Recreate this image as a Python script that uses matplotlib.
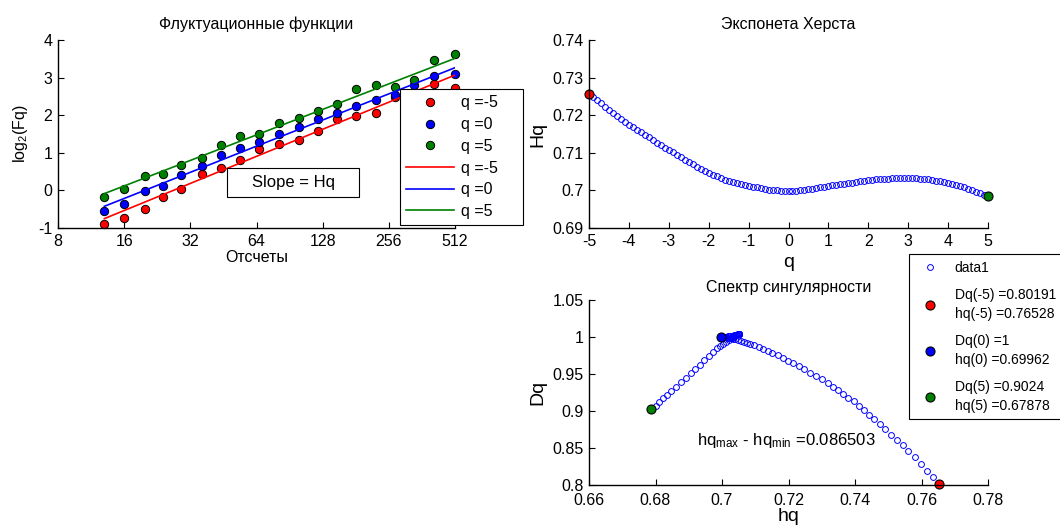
import numpy as np
import matplotlib
matplotlib.use('Agg')
import matplotlib.pyplot as plt
from matplotlib.patches import Rectangle
from matplotlib.ticker import FuncFormatter, NullLocator

plt.rcParams['font.family'] = ['Liberation Sans', 'DejaVu Sans']
plt.rcParams['mathtext.default'] = 'regular'
plt.rcParams['axes.unicode_minus'] = False

# fluctuation functions, log2(Fq) vs scale
scales = [13, 16, 20, 24, 29, 36, 44, 54, 66, 81, 100, 122, 149, 181, 224, 273, 334, 412, 512]
fq_m5 = [-0.885, -0.725, -0.503, -0.174, 0.048, 0.430, 0.607, 0.821, 1.096, 1.247,
         1.336, 1.593, 1.886, 1.966, 2.046, 2.49, 2.55, 2.83, 2.73]
fq_0 = [-0.547, -0.352, -0.023, 0.119, 0.403, 0.643, 0.936, 1.131, 1.291, 1.487,
        1.691, 1.886, 2.064, 2.242, 2.401, 2.55, 2.80, 3.04, 3.09]
fq_p5 = [-0.174, 0.048, 0.377, 0.430, 0.687, 0.874, 1.202, 1.442, 1.487, 1.797,
         1.913, 2.108, 2.286, 2.686, 2.801, 2.757, 2.934, 3.467, 3.627]
fit_x = [13, 512]
fit_m5 = [-0.751, 3.067]
fit_0 = [-0.423, 3.263]
fit_p5 = [-0.085, 3.512]

# generalized Hurst exponent
q = np.round(np.linspace(-5, 5, 101), 1)
Hq = [0.7257, 0.7249, 0.7240, 0.7232, 0.7223, 0.7215, 0.7207, 0.7199, 0.7191, 0.7183,
      0.7175, 0.7168, 0.7161, 0.7155, 0.7148, 0.7141, 0.7134, 0.7127, 0.7121, 0.7114,
      0.7107, 0.7101, 0.7094, 0.7088, 0.7081, 0.7075, 0.7069, 0.7063, 0.7058, 0.7052,
      0.7046, 0.7042, 0.7037, 0.7033, 0.7028, 0.7024, 0.7022, 0.7019, 0.7017, 0.7014,
      0.7012, 0.7010, 0.7008, 0.7006, 0.7004, 0.7002, 0.7001, 0.7000, 0.6999, 0.6998,
      0.6998, 0.6998, 0.6999, 0.7000, 0.7001, 0.7003, 0.7005, 0.7007, 0.7009, 0.7010,
      0.7012, 0.7014, 0.7015, 0.7017, 0.7018, 0.7020, 0.7021, 0.7023, 0.7024, 0.7026,
      0.7027, 0.7028, 0.7029, 0.7030, 0.7030, 0.7031, 0.7032, 0.7032, 0.7033, 0.7033,
      0.7033, 0.7032, 0.7032, 0.7031, 0.7030, 0.7029, 0.7027, 0.7026, 0.7024, 0.7022,
      0.7020, 0.7017, 0.7014, 0.7011, 0.7008, 0.7004, 0.7000, 0.6996, 0.6992, 0.6988,
      0.6984]

# singularity spectrum
hq = [0.7653, 0.7634, 0.7616, 0.7597, 0.7579, 0.7560, 0.7543, 0.7526, 0.7508, 0.7491,
      0.7474, 0.7458, 0.7443, 0.7427, 0.7412, 0.7396, 0.7380, 0.7365, 0.7349, 0.7334,
      0.7318, 0.7301, 0.7283, 0.7266, 0.7248, 0.7231, 0.7215, 0.7199, 0.7183, 0.7167,
      0.7151, 0.7138, 0.7124, 0.7111, 0.7097, 0.7084, 0.7075, 0.7066, 0.7058, 0.7049,
      0.7040, 0.7034, 0.7028, 0.7021, 0.7015, 0.7009, 0.7006, 0.7004, 0.7001, 0.6999,
      0.6996, 0.6999, 0.7003, 0.7006, 0.7009, 0.7013, 0.7017, 0.7021, 0.7025, 0.7029,
      0.7033, 0.7036, 0.7039, 0.7042, 0.7045, 0.7047, 0.7049, 0.7050, 0.7051, 0.7052,
      0.7052, 0.7052, 0.7051, 0.7050, 0.7048, 0.7046, 0.7043, 0.7040, 0.7036, 0.7033,
      0.7029, 0.7020, 0.7012, 0.7003, 0.6995, 0.6986, 0.6973, 0.6960, 0.6946, 0.6933,
      0.6920, 0.6906, 0.6891, 0.6877, 0.6862, 0.6848, 0.6836, 0.6824, 0.6812, 0.6800,
      0.6788]
Dq = [0.8019, 0.8107, 0.8195, 0.8284, 0.8372, 0.8460, 0.8534, 0.8608, 0.8682, 0.8756,
      0.8830, 0.8890, 0.8950, 0.9010, 0.9070, 0.9130, 0.9180, 0.9230, 0.9280, 0.9330,
      0.9380, 0.9426, 0.9472, 0.9518, 0.9564, 0.9610, 0.9646, 0.9682, 0.9718, 0.9754,
      0.9790, 0.9814, 0.9838, 0.9862, 0.9886, 0.9910, 0.9923, 0.9935, 0.9948, 0.9960,
      0.9973, 0.9978, 0.9983, 0.9987, 0.9992, 0.9997, 0.9998, 0.9998, 0.9999, 0.9999,
      1.0000, 1.0001, 1.0002, 1.0003, 1.0004, 1.0005, 1.0008, 1.0011, 1.0014, 1.0017,
      1.0020, 1.0023, 1.0026, 1.0028, 1.0031, 1.0034, 1.0036, 1.0038, 1.0040, 1.0042,
      1.0043, 1.0043, 1.0042, 1.0040, 1.0037, 1.0033, 1.0025, 1.0017, 1.0009, 1.0000,
      0.9991, 0.9963, 0.9936, 0.9908, 0.9881, 0.9853, 0.9796, 0.9740, 0.9683, 0.9627,
      0.9570, 0.9510, 0.9450, 0.9390, 0.9330, 0.9270, 0.9221, 0.9172, 0.9122, 0.9073,
      0.9024]
key_q = [-5, 0, 5]
key_Dq = [0.80191, 1.0, 0.9024]
key_hq = [0.76528, 0.69962, 0.67878]
hq_width = 0.086503

RED = (1, 0, 0)
BLUE = (0, 0, 1)
GREEN = (0, 0.5, 0)

fig = plt.figure(figsize=(10.6, 5.26), dpi=100)
W, H = 1060.0, 526.0
ax1 = fig.add_axes([58/W, 298/H, 397/W, 188/H])
ax2 = fig.add_axes([589/W, 298/H, 399/W, 188/H])
ax3 = fig.add_axes([589/W, 41/H, 399/W, 185/H])

fmt = FuncFormatter(lambda v, p: '%g' % round(v, 6))


def style(ax):
    for s in ['top', 'right']:
        ax.spines[s].set_visible(False)
    for s in ['left', 'bottom']:
        ax.spines[s].set_linewidth(1.0)
    ax.tick_params(direction='in', length=4, width=0.8, labelsize=11.5,
                   top=False, right=False, pad=4)


# ---- fluctuation functions
style(ax1)
ax1.set_xscale('log', base=2)
ax1.plot(scales, fq_m5, 'o', mfc=RED, mec='k', ms=6, mew=0.7, label='q =-5', clip_on=False)
ax1.plot(scales, fq_0, 'o', mfc=BLUE, mec='k', ms=6, mew=0.7, label='q =0', clip_on=False)
ax1.plot(scales, fq_p5, 'o', mfc=GREEN, mec='k', ms=6, mew=0.7, label='q =5', clip_on=False)
ax1.plot(fit_x, fit_m5, '-', color=RED, lw=1.2, label='q =-5')
ax1.plot(fit_x, fit_0, '-', color=BLUE, lw=1.2, label='q =0')
ax1.plot(fit_x, fit_p5, '-', color=GREEN, lw=1.2, label='q =5')
ax1.set_xlim(8, 512)
ax1.set_ylim(-1, 4)
xt = [8, 16, 32, 64, 128, 256, 512]
ax1.set_xticks(xt)
ax1.set_xticklabels([str(v) for v in xt])
ax1.xaxis.set_minor_locator(NullLocator())
ax1.set_yticks(range(-1, 5))
ax1.set_title('Флуктуационные функции', fontsize=11.5, pad=8)
ax1.set_xlabel('Отсчеты', fontsize=11.5, labelpad=1)
ax1.set_ylabel('log$_2$(Fq)', fontsize=11.5, labelpad=6)
ax1.add_patch(Rectangle((0.4257, 0.165), 0.3323, 0.154, transform=ax1.transAxes,
                        fc='white', ec='k', lw=0.8, zorder=5))
ax1.text(0.592, 0.242, 'Slope = Hq', transform=ax1.transAxes, ha='center', va='center',
         fontsize=12, zorder=6)
leg1 = ax1.legend(loc='upper left', bbox_to_anchor=(400/W, 437/H, 123/W, 0),
                  bbox_transform=fig.transFigure, mode='expand', borderaxespad=0,
                  fontsize=11.5, handlelength=3.0, handletextpad=0.4, labelspacing=0.42,
                  borderpad=0.4, fancybox=False, edgecolor='k', framealpha=1, numpoints=1)
leg1.get_frame().set_linewidth(0.8)
leg1.set_zorder(10)

# ---- Hurst exponent
style(ax2)
ax2.plot(q, Hq, 'o', mfc='none', mec=BLUE, ms=4.2, mew=0.7, clip_on=False)
ax2.plot(q[0], Hq[0], 'o', mfc=RED, mec='k', ms=6.5, mew=0.8, clip_on=False)
ax2.plot(q[-1], Hq[-1], 'o', mfc=GREEN, mec='k', ms=6.5, mew=0.8, clip_on=False)
ax2.set_xlim(-5, 5)
ax2.set_ylim(0.69, 0.74)
ax2.set_xticks(range(-5, 6))
ax2.set_yticks(np.round(np.arange(0.69, 0.7401, 0.01), 2))
ax2.yaxis.set_major_formatter(fmt)
ax2.set_title('Экспонета Херста', fontsize=11.5, pad=8)
ax2.set_xlabel('q', fontsize=14, labelpad=4)
ax2.set_ylabel('Hq', fontsize=14, labelpad=4)

# ---- singularity spectrum
style(ax3)
ax3.plot(hq, Dq, 'o', mfc='none', mec=BLUE, ms=4.2, mew=0.7, label='data1', clip_on=False)
cols = [RED, BLUE, GREEN]
for kq, kd, kh, c in zip(key_q, key_Dq, key_hq, cols):
    lab = 'Dq(%d) =%.5g\nhq(%d) =%.5g' % (kq, kd, kq, kh)
    ax3.plot(kh, kd, 'o', mfc=c, mec='k', ms=6.5, mew=0.8, label=lab, clip_on=False)
ax3.set_xlim(0.66, 0.78)
ax3.set_ylim(0.8, 1.05)
ax3.set_xticks(np.round(np.arange(0.66, 0.7801, 0.02), 2))
ax3.set_yticks(np.round(np.arange(0.8, 1.0501, 0.05), 2))
ax3.xaxis.set_major_formatter(fmt)
ax3.yaxis.set_major_formatter(fmt)
ax3.tick_params(axis='x', pad=5.5)
ax3.set_title('Спектр сингулярности', fontsize=11.5, pad=6)
ax3.set_xlabel('hq', fontsize=14, labelpad=0)
ax3.set_ylabel('Dq', fontsize=14, labelpad=4)
ax3.text(0.6925, 0.854, 'hq$_{max}$ - hq$_{min}$ =%.5g' % hq_width, fontsize=12, va='baseline')
leg3 = ax3.legend(loc='upper left', bbox_to_anchor=(909/W, 272/H, 170/W, 0),
                  bbox_transform=fig.transFigure, mode='expand', borderaxespad=0,
                  fontsize=10, handlelength=2.0, handletextpad=0.8, labelspacing=0.93,
                  borderpad=0.5, fancybox=False, edgecolor='k', framealpha=1, numpoints=1)
leg3.get_frame().set_linewidth(0.8)
for t in leg3.get_texts():
    t.set_linespacing(1.45)

fig.savefig('out.png', dpi=100)
